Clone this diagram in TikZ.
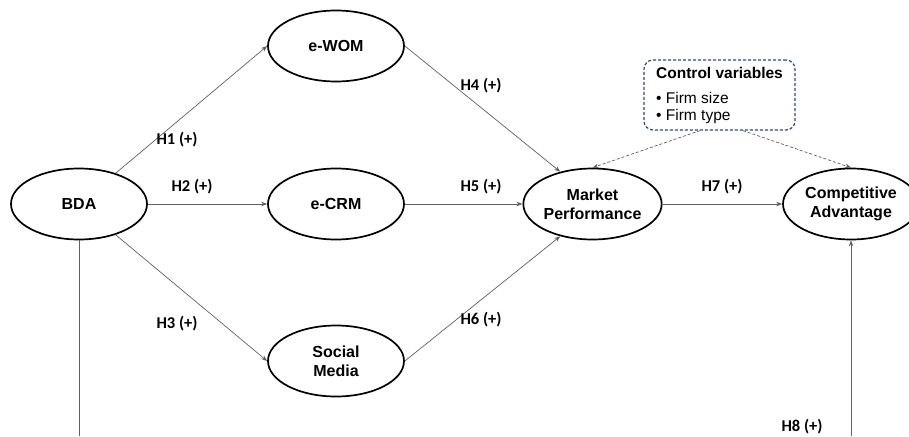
\documentclass[tikz,border=0pt]{standalone}
\usepackage{fontspec}
\setmainfont{Liberation Sans}
\newfontfamily\labfont{Carlito}
\usetikzlibrary{shapes.geometric,arrows.meta}
\definecolor{ctrlblue}{HTML}{2F4A7C}
\definecolor{linegray}{HTML}{606060}
\tikzset{
  construct/.style={ellipse,draw=black,line width=1.7pt,minimum width=136pt,minimum height=71pt,inner sep=0pt,align=center,font=\fontsize{16}{19}\selectfont\bfseries},
  path/.style={draw=linegray,line width=0.7pt,-{Stealth[length=6pt,width=4.5pt]}},
  plainline/.style={draw=linegray,line width=0.7pt},
  ctrlpath/.style={draw=linegray,line width=0.7pt,dash pattern=on 3pt off 2pt,-{Stealth[length=6pt,width=4.5pt]}},
  hyp/.style={font=\labfont\fontsize{16.5}{18}\selectfont\bfseries,inner sep=0pt},
  ctrlbox/.style={draw=ctrlblue,line width=1.2pt,dash pattern=on 3pt off 2pt,rounded corners=9pt,minimum width=151pt,minimum height=70pt,align=left,font=\fontsize{15.5}{17}\selectfont,inner sep=0pt}
}
\begin{document}
\begin{tikzpicture}[x=1pt,y=-1pt]
\useasboundingbox (0,0) rectangle (909,436);
\clip (0,0) rectangle (909,436);
\node[construct] (bda) at (79,204) {BDA};
\node[construct] (ewom) at (336,46) {e-WOM};
\node[construct] (ecrm) at (336,204) {e-CRM};
\node[construct] (sm) at (336,361) {Social\\Media};
\node[construct] (mp) at (592.5,204) {Market\\Performance};
\node[construct] (ca) at (851,204) {Competitive\\Advantage};
\node[ctrlbox] (ctrl) at (719.5,95) {\textbf{Control variables}\\[8pt]\textbullet\ Firm size\\\textbullet\ Firm type};
\coordinate (bdaend) at (79,436);
\coordinate (castart) at (851,436);

\draw[path] (bda.40) -- (ewom.west);
\draw[path] (bda.east) -- (ecrm.west);
\draw[path] (bda.-40) -- (sm.west);
\draw[path] (ewom.east) -- (mp.135);
\draw[path] (ecrm.east) -- (mp.west);
\draw[path] (sm.east) -- (mp.-135);
\draw[path] (mp.east) -- (ca.west);
\draw[plainline] (bda.south) -- (bdaend);
\draw[path] (castart) -- (ca.south);
\draw[ctrlpath] (ctrl.south -| 700,0) -- (mp.north);
\draw[ctrlpath] (ctrl.south -| 743,0) -- (ca.north);

\node[hyp] (h1) at (177,140) {H1 (+)};
\node[hyp] (h2) at (192,187) {H2 (+)};
\node[hyp] (h3) at (177,324) {H3 (+)};
\node[hyp] (h4) at (481,86) {H4 (+)};
\node[hyp] (h5) at (481,187) {H5 (+)};
\node[hyp] (h6) at (481,320) {H6 (+)};
\node[hyp] (h7) at (722,187) {H7 (+)};
\node[hyp] (h8) at (802,427) {H8 (+)};
\end{tikzpicture}
\end{document}
